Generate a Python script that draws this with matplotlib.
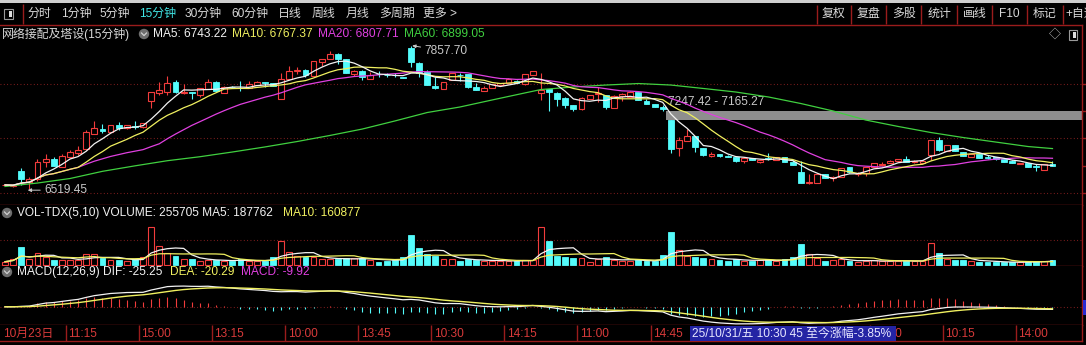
import numpy as np
import pandas as pd
import matplotlib
matplotlib.use('Agg')
import matplotlib.pyplot as plt
from matplotlib.patches import Rectangle, Circle
from matplotlib.transforms import Bbox, TransformedBbox

# ---------------- data (15-minute bars) ----------------
opens = [6556, 6551, 6690, 6590, 6613, 6771, 6802, 6730, 6823, 6855,
         6892, 7038, 7084, 7051, 7116, 7091, 7109, 7097, 7345, 7414,
         7423, 7522, 7414, 7423, 7398, 7454, 7522, 7420, 7475, 7468,
         7461, 7491, 7517, 7507, 7364, 7545, 7622, 7631, 7578, 7708,
         7731, 7780, 7731, 7594, 7622, 7545, 7597, 7587, 7589, 7563,
         7833, 7699, 7615, 7482, 7457, 7538, 7589, 7591, 7470, 7438,
         7461, 7491, 7507, 7531, 7498, 7582, 7414, 7451, 7420, 7373,
         7305, 7265, 7361, 7405, 7398, 7280, 7389, 7382, 7423, 7342,
         7312, 7289, 7165.27, 6902, 6972, 7016, 6907, 6833, 6846, 6833,
         6823, 6786, 6811, 6777, 6808, 6793, 6823, 6774, 6684, 6576,
         6581, 6659, 6622, 6637, 6727, 6659, 6669, 6725, 6743, 6762,
         6781, 6802, 6771, 6768, 6839, 6979, 6877, 6930, 6867, 6823,
         6846, 6823, 6823, 6799, 6786, 6753, 6768, 6737, 6699, 6755]
highs = [6569, 6564, 6718, 6637, 6802, 6846, 6820, 6848, 6886, 6923,
         7072, 7159, 7131, 7123, 7147, 7123, 7156, 7137, 7426, 7517,
         7575, 7538, 7501, 7426, 7463, 7547, 7529, 7482, 7482, 7531,
         7529, 7524, 7519, 7510, 7600, 7668, 7656, 7636, 7715, 7738,
         7808, 7785, 7738, 7627, 7627, 7615, 7619, 7606, 7606, 7566,
         7857.70, 7706, 7631, 7563, 7519, 7603, 7600, 7594, 7513, 7482,
         7501, 7510, 7557, 7538, 7594, 7625, 7606, 7454, 7422, 7375,
         7308, 7377, 7401, 7476, 7401, 7394, 7420, 7431, 7426, 7358,
         7314, 7305, 7165.27, 7010, 7079, 7019, 6909, 6870, 6849, 6835,
         6825, 6811, 6814, 6795, 6861, 6823, 6825, 6793, 6786, 6662,
         6662, 6662, 6639, 6718, 6730, 6681, 6732, 6765, 6774, 6790,
         6805, 6830, 6788, 6788, 6982, 7004, 6932, 6932, 6870, 6849,
         6849, 6839, 6825, 6802, 6788, 6769, 6769, 6755, 6755, 6786]
lows = [6551, 6541, 6560, 6519.45, 6600, 6730, 6737, 6727, 6811, 6839,
        6886, 7035, 7044, 7049, 7069, 7086, 7084, 7095, 7274, 7398,
        7398, 7417, 7412, 7358, 7380, 7452, 7436, 7417, 7463, 7438,
        7459, 7487, 7476, 7482, 7364, 7543, 7594, 7566, 7578, 7671,
        7729, 7684, 7603, 7578, 7538, 7543, 7569, 7563, 7563, 7552,
        7662, 7569, 7489, 7451, 7454, 7535, 7531, 7463, 7442, 7436,
        7459, 7489, 7505, 7510, 7496, 7580, 7352, 7249, 7299, 7280,
        7252, 7263, 7359, 7336, 7268, 7277, 7345, 7380, 7349, 7310,
        7286, 7247.42, 6855, 6833, 6970, 6870, 6833, 6818, 6823, 6821,
        6774, 6768, 6790, 6762, 6797, 6791, 6771, 6746, 6578, 6569,
        6578, 6625, 6600, 6634, 6676, 6644, 6646, 6723, 6734, 6760,
        6779, 6774, 6769, 6765, 6793, 6879, 6874, 6874, 6830, 6821,
        6811, 6799, 6797, 6771, 6760, 6751, 6725, 6693, 6697, 6734]
closes = [6560, 6556, 6616, 6613, 6771, 6802, 6740, 6830, 6864, 6886,
          7051, 7088, 7063, 7119, 7091, 7116, 7103, 7135, 7423, 7445,
          7507, 7423, 7429, 7414, 7461, 7517, 7438, 7476, 7470, 7461,
          7501, 7519, 7507, 7485, 7545, 7622, 7628, 7585, 7715, 7734,
          7780, 7734, 7606, 7622, 7563, 7585, 7591, 7582, 7580, 7554,
          7703, 7606, 7491, 7466, 7517, 7600, 7585, 7476, 7445, 7461,
          7498, 7507, 7545, 7513, 7594, 7622, 7445, 7429, 7361, 7305,
          7268, 7367, 7398, 7414, 7289, 7392, 7405, 7429, 7352, 7312,
          7289, 7265, 6892, 6979, 7016, 6911, 6839, 6846, 6827, 6823,
          6786, 6808, 6793, 6793, 6799, 6821, 6774, 6749, 6581, 6590,
          6659, 6628, 6637, 6715, 6678, 6665, 6730, 6762, 6755, 6786,
          6802, 6777, 6786, 6786, 6979, 6886, 6930, 6877, 6833, 6846,
          6814, 6811, 6799, 6774, 6762, 6768, 6727, 6725, 6753, 6737]
volumes = [165000, 280500, 874500, 280500, 577500, 412500, 247500, 247500, 247500, 247500,
           528000, 528000, 330000, 247500, 247500, 198000, 280500, 379500, 1864500, 940500,
           577500, 445500, 280500, 280500, 198000, 247500, 247500, 198000, 198000, 280500,
           198000, 198000, 198000, 379500, 1188000, 660000, 445500, 379500, 379500, 280500,
           280500, 280500, 330000, 330000, 330000, 247500, 165000, 214500, 247500, 379500,
           1485000, 825000, 528000, 445500, 280500, 280500, 214500, 280500, 247500, 198000,
           198000, 198000, 198000, 198000, 247500, 247500, 1897500, 1204500, 445500, 379500,
           330000, 330000, 165000, 280500, 379500, 247500, 198000, 198000, 247500, 198000,
           198000, 495000, 1633500, 742500, 445500, 412500, 363000, 280500, 247500, 214500,
           313500, 198000, 198000, 247500, 247500, 198000, 280500, 412500, 1039500, 544500,
           330000, 198000, 247500, 280500, 214500, 132000, 198000, 247500, 198000, 198000,
           198000, 198000, 198000, 198000, 1105500, 610500, 280500, 247500, 247500, 198000,
           165000, 165000, 132000, 132000, 132000, 132000, 165000, 198000, 198000, 255705]
ma60_bars = [0, 4, 8, 12, 16, 20, 24, 28, 32, 36, 40, 44, 48, 52, 56, 60, 64, 66,
             70, 74, 78, 82, 86, 90, 94, 98, 102, 106, 110, 114, 118, 122, 126, 129]
ma60_values = [6546, 6578, 6620, 6687, 6738, 6786, 6823, 6867, 6914, 6965, 7021, 7081,
               7156, 7235, 7286, 7352, 7417, 7449, 7473, 7491, 7505, 7491, 7459, 7426,
               7380, 7319, 7249, 7165, 7105, 7049, 7002, 6960, 6918, 6899.05]
time_labels = ['10月23日', '11:15', '15:00', '13:15', '10:00', '13:45', '10:30', '14:15',
               '11:00', '14:45', '13:30', '10:15', '14:00']
time_label_bars = [-0.6, 8, 17, 26, 35, 44, 53, 62, 71, 80, 107, 116, 125]
low_bar, low_value = 3, 6519.45
high_bar, high_value = 50, 7857.70
gap_bar, gap_top, gap_bottom = 82, 7247.42, 7165.27
toolbar_left = ['分时', '1分钟', '5分钟', '15分钟', '30分钟', '60分钟', '日线', '周线', '月线', '多周期', '更多 >']
toolbar_right = ['复权', '复盘', '多股', '统计', '画线', 'F10', '标记', '+自选']
stock_title = '网络接配及塔设(15分钟)'
ma_titles = ['MA5: 6743.22', 'MA10: 6767.37', 'MA20: 6807.71', 'MA60: 6899.05']
vol_titles = ['VOL-TDX(5,10) VOLUME: 255705 MA5: 187762', 'MA10: 160877']
macd_titles = ['MACD(12,26,9) DIF: -25.25', 'DEA: -20.29', 'MACD: -9.92']
cursor_text = '25/10/31/五 10:30 45 至今涨幅-3.85%'

# ---------------- styling ----------------
FONT = ['Liberation Sans', 'Noto Sans CJK SC', 'DejaVu Sans']
plt.rcParams['font.family'] = FONT
plt.rcParams['font.size'] = 8.6
RED = '#f23c3c'
CYAN = '#54fcfc'
FRAME = '#9a1c1c'
GRID = '#8a2020'
WHITE = '#f2f2f2'
YEL = '#f0f060'
MAG = '#e040e0'
GRN = '#40d040'
TXT = '#d8d8d8'
ANN = '#c8c8c8'

W, H = 1086, 345
X0, DX, RIGHT = 5.0, 8.12, 1082
XL = (-X0 / DX, (RIGHT - X0) / DX)
fig = plt.figure(figsize=(W / 100, H / 100), dpi=100, facecolor='black')


def ax_px(x0, y0, x1, y1):
    a = fig.add_axes([x0 / W, 1 - y1 / H, (x1 - x0) / W, (y1 - y0) / H])
    a.set_facecolor('black')
    a.set_xlim(*XL)
    a.set_xticks([])
    a.set_yticks([])
    for s in a.spines.values():
        s.set_visible(False)
    return a


def frame(a, sides):
    for s in sides:
        a.spines[s].set_visible(True)
        a.spines[s].set_color(FRAME)
        a.spines[s].set_linewidth(1.0)


o = np.array(opens, float); h = np.array(highs, float)
l = np.array(lows, float); c = np.array(closes, float)
v = np.array(volumes, float)
n = len(c)
idx = np.arange(n)
up = c >= o
bw = 0.72

# ---------------- main price panel ----------------
ax = ax_px(0, 25, RIGHT, 205)
ax.set_ylim(6373.3, 8050.4)
frame(ax, ['top', 'bottom', 'right'])
step = 253.2
tick_prices = [6488 + k * step for k in range(5)]
for k, p in enumerate(tick_prices):
    if k % 2 == 0:
        ax.axhline(p, color=GRID, lw=0.8, ls=(0, (0.8, 2.2)), zorder=0)
ax.yaxis.tick_right()
ax.set_yticks(tick_prices)
ax.tick_params(axis='y', right=True, length=3, color=FRAME, width=1, labelright=False, direction='out')

# gap band
ax.add_patch(Rectangle((gap_bar - 0.62, gap_bottom), XL[1] - gap_bar + 0.62, gap_top - gap_bottom,
                       facecolor='#8e8e8e', edgecolor='none', zorder=1))

for i in range(n):
    col = RED if up[i] else CYAN
    ax.vlines(i, l[i], h[i], color=col, lw=0.8, zorder=3)
    bot = min(o[i], c[i]); ht = max(abs(c[i] - o[i]), 2.0)
    if up[i]:
        ax.add_patch(Rectangle((i - bw / 2, bot), bw, ht, facecolor='black', edgecolor=col, lw=0.8, zorder=4))
    else:
        ax.add_patch(Rectangle((i - bw / 2, bot), bw, ht, facecolor=col, edgecolor=col, lw=0.6, zorder=4))

cs = pd.Series(c)
ma5 = cs.rolling(5, min_periods=1).mean()
ma10 = cs.rolling(10, min_periods=1).mean()
ma20 = cs.rolling(20, min_periods=1).mean()
ax.plot(ma60_bars, ma60_values, color=GRN, lw=0.9, zorder=5)
ax.plot(idx, ma20, color=MAG, lw=0.9, zorder=5)
ax.plot(idx, ma10, color=YEL, lw=0.9, zorder=5)
ax.plot(idx, ma5, color=WHITE, lw=0.9, zorder=6)

# extreme-value markers
ax.annotate(f'{low_value:.2f}', xy=(low_bar - 0.2, low_value - 8), xytext=(12, 0), textcoords='offset points',
            ha='left', va='center', color=ANN, fontsize=8.6, zorder=7,
            arrowprops=dict(arrowstyle='-|>', color=ANN, lw=0.7, mutation_scale=5, shrinkA=1, shrinkB=0))
ax.annotate(f'{high_value:.2f}', xy=(high_bar + 0.15, high_value), xytext=(9, -4), textcoords='offset points',
            ha='left', va='center', color=ANN, fontsize=8.6, zorder=7,
            arrowprops=dict(arrowstyle='-|>', color=ANN, lw=0.7, mutation_scale=5, shrinkA=1, shrinkB=0))
ax.annotate(f'{gap_top:.2f} - {gap_bottom:.2f}', xy=(gap_bar - 0.4, gap_top), xytext=(0, 2),
            textcoords='offset points', ha='left', va='bottom', color=ANN, fontsize=8.6, zorder=4)

# ---------------- volume panel ----------------
axv = ax_px(0, 205, RIGHT, 266)
axv.set_ylim(-49500, 2970000)
frame(axv, ['bottom', 'right'])
axv.axhline(1237500, color=GRID, lw=0.8, ls=(0, (0.8, 2.2)), zorder=0)
for i in range(n):
    if up[i]:
        axv.add_patch(Rectangle((i - bw / 2, 0), bw, v[i], facecolor='black', edgecolor=RED, lw=0.8, zorder=3))
    else:
        axv.add_patch(Rectangle((i - bw / 2, 0), bw, v[i], facecolor=CYAN, edgecolor=CYAN, lw=0.6, zorder=3))
vs = pd.Series(v)
axv.plot(idx, vs.rolling(5, min_periods=1).mean(), color=WHITE, lw=0.9, zorder=4)
axv.plot(idx, vs.rolling(10, min_periods=1).mean(), color=YEL, lw=0.9, zorder=4)

# ---------------- MACD panel ----------------
axm = ax_px(0, 266, RIGHT, 325)
frame(axm, ['bottom', 'right'])
e12 = cs.ewm(span=12, adjust=False).mean()
e26 = cs.ewm(span=26, adjust=False).mean()
dif = e12 - e26
dea = dif.ewm(span=9, adjust=False).mean()
hist = 2 * (dif - dea)
peak = float(dif.max())
axm.set_ylim(-0.88 * peak, 1.97 * peak)
axm.axhline(0, color=GRID, lw=0.8, ls=(0, (0.8, 2.2)), zorder=0)
axm.vlines(idx, 0, hist, colors=[RED if x >= 0 else CYAN for x in hist], lw=0.8, zorder=3)
axm.plot(idx, dif, color=WHITE, lw=0.9, zorder=4)
axm.plot(idx, dea, color=YEL, lw=1.0, zorder=4)

# ---------------- time axis row ----------------
BOX_X0, BOX_X1 = 690, 896
axt = ax_px(0, 325, RIGHT, 341)
axt.set_ylim(0, 1)
frame(axt, ['bottom', 'right'])
clip_right_of_box = TransformedBbox(Bbox([[BOX_X1 / W, 0], [1, 1]]), fig.transFigure)
for lab, b in zip(time_labels, time_label_bars):
    xs = b - 0.5 if b >= 0 else b
    if b >= 0:
        axt.vlines(xs, 0, 1, color=FRAME, lw=1.0)
    t = axt.text(xs + 0.3, 0.45, lab, color='#d83a3a', fontsize=8.6, ha='left', va='center')
    px = X0 + DX * xs
    if BOX_X0 < px < BOX_X1:
        t.set_clip_box(clip_right_of_box)
        t.set_clip_on(True)

# ---------------- overlay (toolbar, titles, icons) ----------------
ov = fig.add_axes([0, 0, 1, 1])
ov.set_xlim(0, W); ov.set_ylim(H, 0); ov.axis('off'); ov.patch.set_alpha(0)
ov.add_patch(Rectangle((0, 0), W, 3, facecolor='#cfcfcf', edgecolor='none'))
# top-left icon
ov.add_patch(Rectangle((4, 9), 9, 10, facecolor='none', edgecolor='#9a9a9a', lw=0.8))
ov.add_patch(Rectangle((9, 11), 3, 6, facecolor='#dddddd', edgecolor='none'))
ov.vlines(23, 4, 24, color=FRAME, lw=1.0)
lx = [28, 61, 100, 139, 185, 231, 278, 312, 346, 379, 423]
for t, x in zip(toolbar_left, lx):
    ov.text(x, 14, t, color=('#40e6e6' if t == '15分钟' else TXT), fontsize=8.6, ha='left', va='center')
seps = [817, 851, 886, 921, 957, 992, 1027, 1063, 1099]
for x in seps[:-1]:
    ov.vlines(x, 5, 24, color=FRAME, lw=1.0)
for t, a, b in zip(toolbar_right, seps[:-1], seps[1:]):
    if t == '+自选':
        ov.text(a + 2, 14, t, color=TXT, fontsize=8.6, ha='left', va='center', clip_on=True)
    else:
        ov.text((a + b) / 2, 14, t, color=TXT, fontsize=8.6, ha='center', va='center')

# main title row
ov.text(2, 34, stock_title, color=TXT, fontsize=8.6, ha='left', va='center')


def icon(x, y):
    ov.add_patch(Circle((x, y), 5.2, facecolor='#6e6e6e', edgecolor='none'))
    ov.plot([x - 2.5, x, x + 2.5], [y - 1, y + 1.6, y - 1], color='#d0d0d0', lw=0.9)


icon(144, 34)
for t, x, col in zip(ma_titles, [153, 232, 318, 404], [WHITE, YEL, MAG, GRN]):
    ov.text(x, 34, t, color=col, fontsize=8.6, ha='left', va='center')
ov.text(1055, 35, '◇', color='#bdbdbd', fontsize=8.6, ha='center', va='center')
ov.add_patch(Rectangle((1069, 30), 8, 10, facecolor='none', edgecolor='#9a9a9a', lw=0.8))
ov.add_patch(Rectangle((1073, 32), 3, 6, facecolor='#dddddd', edgecolor='none'))

icon(7, 213)
ov.text(17, 213, vol_titles[0], color=WHITE, fontsize=8.6, ha='left', va='center')
ov.text(283, 213, vol_titles[1], color=YEL, fontsize=8.6, ha='left', va='center')
icon(7, 272)
ov.text(17, 272, macd_titles[0], color=WHITE, fontsize=8.6, ha='left', va='center')
ov.text(170, 272, macd_titles[1], color=YEL, fontsize=8.6, ha='left', va='center')
ov.text(241, 272, macd_titles[2], color=MAG, fontsize=8.6, ha='left', va='center')

# cursor box on time axis
ov.add_patch(Rectangle((BOX_X0, 326), BOX_X1 - BOX_X0, 15, facecolor='#2424a4', edgecolor='none'))
ov.text(BOX_X0 + 2, 333.5, cursor_text, color='#e6e6ff', fontsize=8.6, ha='left', va='center')
# right-edge value marker in MACD panel
ov.add_patch(Rectangle((1083, 300), 3, 15, facecolor='#2a2ad0', edgecolor='none'))

fig.savefig('out.png', dpi=100, facecolor='black')
